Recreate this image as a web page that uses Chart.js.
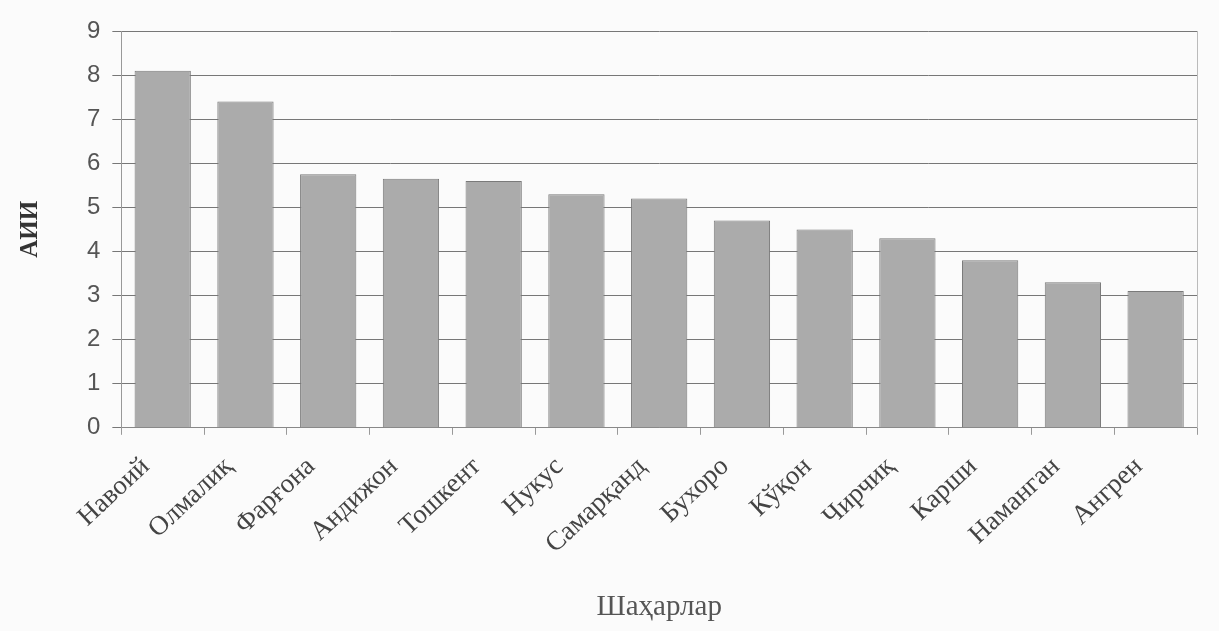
<!DOCTYPE html>
<html>
<head>
<meta charset="utf-8">
<script src="https://cdn.jsdelivr.net/npm/chart.js@4"></script>
<style>
  html, body { margin: 0; padding: 0; background: #fbfbfb; }
  #wrap { width: 1219px; height: 631px; }
</style>
</head>
<body>
<div id="wrap"><canvas id="chart" width="1219" height="631"></canvas></div>
<script>
// города и значения АИИ
const cities = ["Навоий", "Олмалиқ", "Фарғона", "Андижон", "Тошкент", "Нукус", "Самарқанд",
                "Бухоро", "Кўқон", "Чирчиқ", "Карши", "Наманган", "Ангрен"];
const aiiValues = [8.1, 7.4, 5.75, 5.65, 5.6, 5.3, 5.2, 4.7, 4.5, 4.3, 3.8, 3.3, 3.1];
const yTicks = [0, 1, 2, 3, 4, 5, 6, 7, 8, 9];

const serif = "'Liberation Serif', 'DejaVu Serif', serif";
const sans = "'Liberation Sans', Arial, sans-serif";

new Chart(document.getElementById("chart"), {
    type: "bar",
    data: {
        labels: cities,
        datasets: [{
            label: "АИИ",
            data: aiiValues,
            backgroundColor: "#ababab",
            borderColor: "#7a7a7a",
            borderWidth: 1,
            barPercentage: 0.68,
            categoryPercentage: 1.0
        }]
    },
    options: {
        responsive: false,
        animation: false,
        layout: { padding: { top: 31, right: 14, bottom: 6, left: 12 } },
        plugins: { legend: { display: false }, tooltip: { enabled: false } },
        scales: {
            x: {
                grid: { drawOnChartArea: false, drawTicks: true, tickLength: 7, color: "#999" },
                border: { color: "#888" },
                ticks: {
                    color: "#444",
                    font: { family: serif, size: 27 },
                    maxRotation: 43, minRotation: 43,
                    padding: 16,
                    labelOffset: -17
                },
                title: {
                    display: true, text: "Шаҳарлар", color: "#555",
                    font: { family: serif, size: 29 },
                    padding: { top: 14, bottom: 0 }
                }
            },
            y: {
                min: 0, max: 9,
                afterBuildTicks: axis => { axis.ticks = yTicks.map(v => ({ value: v })); },
                grid: { color: "#777", lineWidth: 1, tickLength: 9 },
                border: { color: "#999" },
                ticks: {
                    color: "#555",
                    font: { family: sans, size: 24 },
                    padding: 12
                },
                title: {
                    display: true, text: "АИИ", color: "#333",
                    font: { family: serif, size: 25, weight: "bold" },
                    padding: { bottom: 29 }
                }
            },
            yRight: {
                position: "right", min: 0, max: 9,
                grid: { display: false },
                border: { color: "#bbb" },
                ticks: { display: false }
            }
        }
    }
});
</script>
</body>
</html>
